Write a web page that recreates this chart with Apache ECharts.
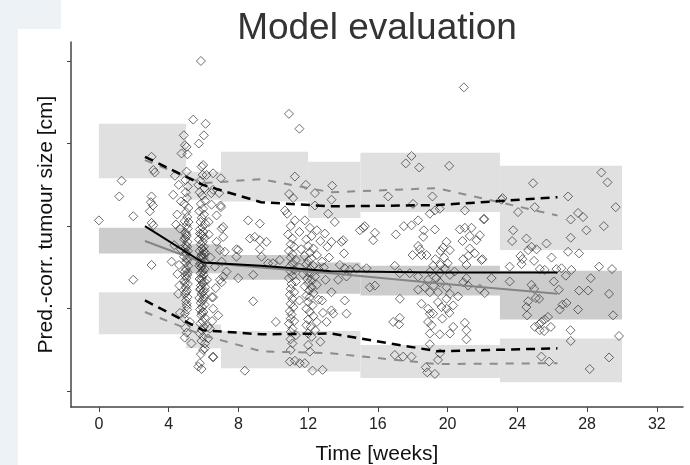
<!DOCTYPE html>
<html>
<head>
<meta charset="utf-8">
<script src="https://cdn.jsdelivr.net/npm/echarts@6/dist/echarts.min.js"></script>
<style>
  html, body { margin: 0; padding: 0; background: #fff; }
  #main { width: 690px; height: 465px; }
</style>
</head>
<body>
<div id="main"></div>
<script>
// VPC: bins of time [weeks]
var binEdges = [0, 5, 7, 12, 15, 23, 30];
// simulated prediction intervals (shaded boxes)
var upperBandLo = [2.58, 2.32, 2.30, 2.10, 2.17, 1.71];
var upperBandHi = [3.24, 2.66, 2.90, 2.78, 2.89, 2.73];
var medianBandLo = [1.67, 1.43, 1.35, 1.18, 1.16, 0.87];
var medianBandHi = [1.98, 1.78, 1.65, 1.56, 1.52, 1.46];
var lowerBandLo = [0.69, 0.52, 0.28, 0.24, 0.16, 0.11];
var lowerBandHi = [1.20, 0.81, 0.73, 0.73, 0.56, 0.64];

// percentile lines at bin midpoints
var binTimes = [2.64, 5.96, 9.3, 13.3, 19.4, 26.3];
var obsMedian = [2.00, 1.56, 1.52, 1.455, 1.44, 1.44];
var simMedian = [1.82, 1.56, 1.50, 1.43, 1.31, 1.18];
var obsUpper = [2.84, 2.50, 2.29, 2.24, 2.255, 2.35];
var simUpper = [2.80, 2.52, 2.57, 2.41, 2.46, 2.13];
var obsLower = [1.10, 0.74, 0.69, 0.70, 0.485, 0.52];
var simLower = [0.96, 0.68, 0.485, 0.46, 0.33, 0.34];

var xTicks = [0, 4, 8, 12, 16, 20, 24, 28, 32];
var yTicks = [0, 1, 2, 3, 4];

// observations [time, pred.-corr. size]
var obsEarly = [[0,2.07],[1.3,2.55],[1.17,2.36],[1.97,2.12],[1.97,1.35],[3.02,1.53],[3.02,2.36],[2.98,2.29],[3.1,2.25],[2.92,2.18],[3.02,2.04],[3.12,2.01],[3.02,2.84],[3.12,2.68],[3.2,2.65],[4.36,2.61],[4.26,2.38],[4.49,2.14],[4.64,1.97],[4.32,1.77],[4.17,1.57],[4.74,2.88],[4.6,1.53],[4.5,1.42],[4.42,2.02],[4.7,2.30],[4.55,1.18],[4.65,0.95],[4.7,1.72],[4.58,2.50],[4.62,1.28]];
var obsWeek5 = [[4.87,3.10],[5.03,2.96],[5.08,2.87],[4.93,2.98],[5.03,2.66],[4.96,2.56],[5.1,2.48],[4.98,2.41],[5.05,2.34],[4.9,2.27],[5.13,2.22],[5.0,2.17],[5.07,2.11],[4.92,2.06],[5.02,2.01],[5.1,1.97],[4.97,1.92],[5.04,1.88],[4.9,1.84],[5.08,1.81],[5.0,1.77],[4.95,1.73],[5.11,1.70],[5.02,1.66],[4.88,1.63],[5.06,1.59],[4.98,1.56],[5.12,1.52],[5.0,1.48],[4.93,1.45],[5.07,1.41],[5.02,1.37],[4.9,1.34],[5.1,1.30],[4.98,1.26],[5.05,1.22],[4.94,1.18],[5.08,1.14],[5.0,1.10],[5.03,1.06],[4.93,0.94],[5.22,0.84],[5.06,0.99],[4.97,0.77],[5.04,0.71],[4.92,0.65],[5.31,0.58],[5.01,1.9],[5.05,1.61],[4.96,1.40],[5.0,1.2],[5.14,2.05],[4.95,1.86],[5.06,1.75],[4.99,1.68],[5.09,1.44],[4.94,1.31],[5.04,1.03],[4.91,0.88]];
var obsWeek6 = [[5.85,4.0],[5.41,3.29],[6.12,3.24],[6.02,3.10],[5.73,3.0],[5.98,2.74],[5.89,2.72],[5.70,2.50],[5.95,2.62],[5.82,2.55],[6.05,2.46],[5.78,2.41],[5.92,2.37],[6.08,2.31],[5.85,2.27],[5.97,2.21],[5.76,2.18],[6.03,2.14],[5.9,2.10],[5.83,2.05],[6.1,2.03],[5.94,1.99],[5.79,1.96],[6.0,1.93],[5.87,1.90],[6.06,1.86],[5.74,1.84],[5.96,1.81],[5.84,1.78],[6.02,1.75],[5.91,1.73],[5.78,1.70],[6.09,1.68],[5.88,1.65],[5.99,1.62],[5.81,1.60],[6.04,1.57],[5.93,1.55],[5.75,1.52],[5.86,1.50],[6.07,1.48],[5.97,1.46],[5.83,1.43],[6.01,1.41],[5.9,1.38],[5.77,1.36],[6.05,1.33],[5.95,1.31],[5.85,1.28],[6.1,1.26],[5.8,1.23],[5.98,1.21],[5.89,1.18],[6.03,1.15],[5.76,1.13],[5.94,1.10],[5.84,1.07],[6.06,1.05],[5.92,1.02],[5.8,0.99],[6.0,0.96],[5.87,0.92],[6.08,0.89],[5.95,0.85],[5.82,0.82],[6.02,0.78],[5.9,0.74],[5.79,0.70],[5.98,0.66],[6.08,0.58],[5.88,0.61],[5.98,0.50],[5.85,0.45],[5.70,0.30],[5.89,0.27],[6.55,0.41],[5.95,1.88],[5.86,1.63],[5.93,1.44],[5.83,1.24],[6.0,1.70],[5.91,1.52],[5.8,1.91],[6.03,1.66],[5.88,1.35],[5.99,1.12],[5.81,1.55],[6.05,1.22],[5.9,0.95]];
var obsWeek7to10 = [[6.17,2.62],[6.46,2.26],[6.98,2.25],[6.75,2.13],[7.04,1.97],[7.13,1.87],[6.75,1.81],[7.22,1.69],[7.04,1.57],[7.32,1.45],[6.94,1.35],[6.55,1.14],[6.55,1.0],[6.84,0.92],[6.36,0.76],[6.27,0.64],[6.08,0.52],[6.55,0.42],[5.79,0.34],[6.55,2.64],[7.0,2.58],[6.55,2.44],[7.0,2.23],[7.13,1.99],[6.94,1.71],[6.65,1.51],[7.13,1.39],[7.04,1.32],[7.99,1.71],[7.89,1.63],[9.23,2.03],[9.23,1.83],[8.66,1.85],[8.94,1.87],[9.33,1.63],[9.71,1.55],[8.85,1.41],[7.99,1.37],[8.56,2.07],[9.61,1.81],[9.23,1.72],[7.89,1.72],[9.98,1.55],[10.38,1.59],[8.85,1.09],[10.15,0.84],[8.37,0.25],[6.4,1.62],[6.3,1.9],[6.7,1.25],[6.5,0.85],[6.3,2.05],[6.2,1.35],[6.45,2.4],[6.9,2.4],[6.25,0.78],[6.48,1.14]];
var obsWeek11to13 = [[10.9,3.36],[11.5,3.18],[11.24,2.60],[11.87,2.50],[12.39,2.40],[10.91,2.39],[11.14,2.34],[12.39,2.25],[10.67,2.19],[10.8,2.15],[11.24,2.07],[11.81,2.07],[11.0,2.0],[12.1,1.98],[12.5,1.95],[11.5,1.93],[10.85,1.90],[12.2,1.88],[11.1,1.85],[11.9,1.84],[12.7,1.82],[11.0,1.78],[11.2,1.75],[12.0,1.76],[12.3,1.73],[11.6,1.72],[10.9,1.70],[12.1,1.68],[11.1,1.66],[12.5,1.65],[11.8,1.64],[11.0,1.62],[12.2,1.61],[11.3,1.59],[12.0,1.58],[12.8,1.57],[11.1,1.55],[11.9,1.54],[12.3,1.52],[10.95,1.51],[11.5,1.50],[12.1,1.49],[12.6,1.48],[11.2,1.47],[11.0,1.45],[12.0,1.44],[12.2,1.43],[11.7,1.42],[11.1,1.40],[12.4,1.39],[10.9,1.37],[11.95,1.36],[12.15,1.35],[11.3,1.33],[12.0,1.31],[11.05,1.30],[12.5,1.29],[11.8,1.27],[12.2,1.26],[11.0,1.24],[12.05,1.22],[11.2,1.20],[12.3,1.19],[10.95,1.17],[11.9,1.16],[12.1,1.14],[11.1,1.12],[12.6,1.11],[11.5,1.10],[12.0,1.08],[11.0,1.06],[12.25,1.04],[11.15,1.02],[11.9,1.00],[10.95,0.97],[12.1,0.96],[11.05,0.93],[12.3,0.91],[11.0,0.88],[12.0,0.87],[11.2,0.85],[12.5,0.84],[10.9,0.82],[11.9,0.80],[12.15,0.78],[11.1,0.76],[12.4,0.74],[11.0,0.72],[12.0,0.70],[11.3,0.68],[12.2,0.66],[10.99,0.63],[12.0,0.56],[11.1,0.58],[12.7,0.60],[10.95,0.36],[11.24,0.37],[11.52,0.34],[11.81,0.34],[12.25,0.25],[12.83,0.26],[11.0,0.50],[12.1,0.48],[13.38,2.49],[13.34,2.32],[12.96,1.91],[13.53,2.05],[13.34,1.20],[13.06,0.84],[13.34,0.98],[13.44,0.94],[12.9,1.50],[13.0,1.35],[12.8,1.10],[13.2,1.62],[13.1,1.75],[12.85,0.95],[13.91,1.81],[14.06,1.67],[13.15,2.15],[13.34,1.81],[13.82,1.53],[14.1,1.10]];
var obsWeek14to18 = [[14.01,1.83],[14.2,0.94],[15.16,1.98],[14.97,1.95],[15.83,1.92],[15.73,1.83],[15.54,1.26],[15.83,1.28],[14.78,1.49],[15.35,1.49],[14.1,1.49],[13.72,1.35],[14.2,1.39],[15.25,2.0],[16.59,2.36],[17.03,1.90],[17.49,2.0],[17.93,2.01],[18.31,2.07],[17.93,2.85],[17.6,2.76],[18.37,2.71],[18.02,2.27],[14.39,1.47],[16.97,1.52],[17.26,1.43],[17.83,1.43],[18.31,1.39],[17.26,1.12],[16.88,0.84],[17.22,0.81],[17.26,0.89],[16.97,0.44],[17.45,0.42],[17.93,0.42],[17.99,1.65],[18.31,1.76],[18.41,1.72],[18.5,1.65],[18.64,1.95],[18.6,1.87],[18.31,1.23],[18.69,1.26],[18.5,1.06],[18.75,0.29],[18.83,0.23]];
var obsWeek19to22 = [[20.93,3.68],[20.09,2.73],[18.98,2.15],[19.27,2.19],[19.55,2.21],[19.13,2.36],[20.99,2.19],[22.09,2.09],[19.27,1.96],[20.7,1.96],[20.99,1.98],[21.37,1.98],[21.27,1.88],[20.85,1.82],[21.66,1.83],[19.94,1.81],[20.13,1.71],[19.74,1.74],[18.79,1.65],[21.27,1.73],[21.56,1.67],[21.18,1.64],[20.9,1.60],[22.0,1.60],[19.17,1.52],[19.59,1.53],[19.84,1.49],[19.55,1.43],[20.13,1.41],[21.08,1.53],[21.08,1.37],[22.52,1.37],[18.88,1.35],[19.36,1.37],[19.55,1.32],[19.94,1.26],[18.98,1.20],[19.45,1.20],[20.13,1.18],[19.94,1.12],[20.32,1.04],[19.94,1.0],[19.45,1.08],[19.65,1.02],[20.9,1.32],[21.18,1.28],[21.85,1.24],[22.13,1.19],[18.88,1.0],[19.17,0.94],[18.98,0.94],[18.88,0.84],[19.08,0.80],[20.99,0.83],[21.08,0.74],[21.08,0.63],[18.98,0.70],[19.55,0.69],[18.98,0.57],[19.45,0.38],[19.55,0.46],[19.27,0.21],[20.13,0.70],[20.32,0.78],[19.7,0.88],[20.1,0.95],[19.3,1.60],[19.8,1.62],[20.4,1.45],[19.0,1.45],[20.6,1.15],[19.6,1.70],[20.0,1.55],[19.2,1.28],[21.85,1.89],[21.94,1.59]];
var obsWeek23to30 = [[23.09,2.32],[28.82,2.65],[29.17,2.53],[24.9,2.52],[29.64,2.23],[26.91,2.36],[23.15,2.34],[24.04,2.17],[25.0,2.23],[27.48,2.16],[27.77,2.11],[27.06,2.08],[27.96,1.95],[28.96,2.0],[23.76,1.95],[23.7,1.82],[24.52,1.85],[25.67,1.79],[24.81,1.75],[24.62,1.71],[25.1,1.72],[27.06,1.86],[26.91,1.69],[27.54,1.67],[24.18,1.64],[24.29,1.60],[24.24,1.54],[25.96,1.62],[24.96,1.58],[23.56,1.51],[25.29,1.48],[25.57,1.47],[26.24,1.48],[26.53,1.49],[27.1,1.47],[26.78,1.40],[28.69,1.51],[29.43,1.48],[28.21,1.37],[23.56,1.33],[26.09,1.33],[24.81,1.29],[24.96,1.24],[26.38,1.23],[27.54,1.22],[28.06,1.22],[29.26,1.18],[25.06,1.13],[25.25,1.12],[24.62,1.09],[24.52,1.02],[24.56,0.92],[26.82,1.07],[26.59,1.05],[26.43,0.99],[27.48,0.99],[29.49,0.92],[25.76,0.90],[25.57,0.87],[25.38,0.84],[25.25,0.81],[25.0,0.78],[25.29,0.74],[25.54,0.73],[25.92,0.78],[27.05,0.74],[27.06,0.61],[29.83,0.67],[25.38,0.42],[25.82,0.36],[29.26,0.41],[28.15,0.27],[22.08,2.08]];

var observations = [].concat(obsEarly, obsWeek5, obsWeek6, obsWeek7to10, obsWeek11to13, obsWeek14to18, obsWeek19to22, obsWeek23to30);

function bandRows(lo, hi) {
    var rows = [];
    for (var i = 0; i < lo.length; i++) {
        rows.push([binEdges[i], binEdges[i + 1], lo[i], hi[i]]);
    }
    return rows;
}

function bandSeries(lo, hi, color) {
    return {
        type: 'custom',
        silent: true,
        z: 1,
        renderItem: function (params, api) {
            var p0 = api.coord([api.value(0), api.value(3)]);
            var p1 = api.coord([api.value(1), api.value(2)]);
            return {
                type: 'rect',
                shape: { x: p0[0], y: p0[1], width: p1[0] - p0[0], height: p1[1] - p0[1] },
                style: { fill: color }
            };
        },
        encode: { x: [0, 1], y: [2, 3] },
        data: bandRows(lo, hi)
    };
}

function lineSeries(values, color, width, dash) {
    var pts = [];
    for (var i = 0; i < binTimes.length; i++) pts.push([binTimes[i], values[i]]);
    return {
        type: 'line',
        silent: true,
        z: 5,
        symbol: 'none',
        data: pts,
        lineStyle: { color: color, width: width, type: dash || 'solid', cap: 'butt' }
    };
}

var font = "'Liberation Sans', Arial, sans-serif";
var myChart = echarts.init(document.getElementById('main'));
myChart.setOption({
    animation: false,
    backgroundColor: '#ffffff',
    title: {
        text: 'Model evaluation',
        left: 372,
        top: 5,
        textAlign: 'center',
        textStyle: { fontFamily: font, fontSize: 37, fontWeight: 'normal', color: '#333' }
    },
    graphic: [
        { type: 'rect', z: -10, shape: { x: 0, y: 0, width: 61, height: 29 }, style: { fill: '#edf2f6' } },
        { type: 'rect', z: -10, shape: { x: 0, y: 29, width: 18, height: 436 }, style: { fill: '#edf2f6' } }
    ],
    grid: { left: 71, right: 7, top: 42, bottom: 58, containLabel: false, outerBoundsMode: 'none' },
    xAxis: {
        type: 'value',
        min: -1.6,
        max: 33.5,
        name: 'Time [weeks]',
        nameLocation: 'middle',
        nameGap: 37,
        nameTextStyle: { fontFamily: font, fontSize: 21, color: '#111' },
        axisLine: { show: true, onZero: false, lineStyle: { color: '#444', width: 1.5 } },
        axisTick: { show: true, length: 5, customValues: xTicks, lineStyle: { color: '#444' } },
        axisLabel: { customValues: xTicks, fontFamily: font, fontSize: 16, color: '#222', margin: 10 },
        splitLine: { show: false }
    },
    yAxis: {
        type: 'value',
        min: -0.19,
        max: 4.23,
        name: 'Pred.-corr. tumour size [cm]',
        nameLocation: 'middle',
        nameGap: 14,
        nameTextStyle: { fontFamily: font, fontSize: 21, color: '#111' },
        axisLine: { show: true, onZero: false, lineStyle: { color: '#444', width: 1.5 } },
        axisTick: { show: true, length: 4, customValues: yTicks, lineStyle: { color: '#444' } },
        axisLabel: { show: false },
        splitLine: { show: false }
    },
    series: [
        bandSeries(upperBandLo, upperBandHi, '#e0e0e0'),
        bandSeries(lowerBandLo, lowerBandHi, '#e0e0e0'),
        bandSeries(medianBandLo, medianBandHi, '#cccccc'),
        {
            type: 'scatter',
            silent: true,
            z: 3,
            symbol: 'diamond',
            symbolSize: 9,
            data: observations,
            itemStyle: { color: 'rgba(0,0,0,0)', borderColor: '#333', borderWidth: 0.9 }
        },
        lineSeries(simUpper, '#8c8c8c', 2, [8, 8]),
        lineSeries(simLower, '#8c8c8c', 2, [8, 8]),
        lineSeries(simMedian, '#858585', 2),
        lineSeries(obsUpper, '#000', 2.5, [9, 6]),
        lineSeries(obsLower, '#000', 2.5, [9, 6]),
        lineSeries(obsMedian, '#000', 2)
    ]
});
</script>
</body>
</html>
